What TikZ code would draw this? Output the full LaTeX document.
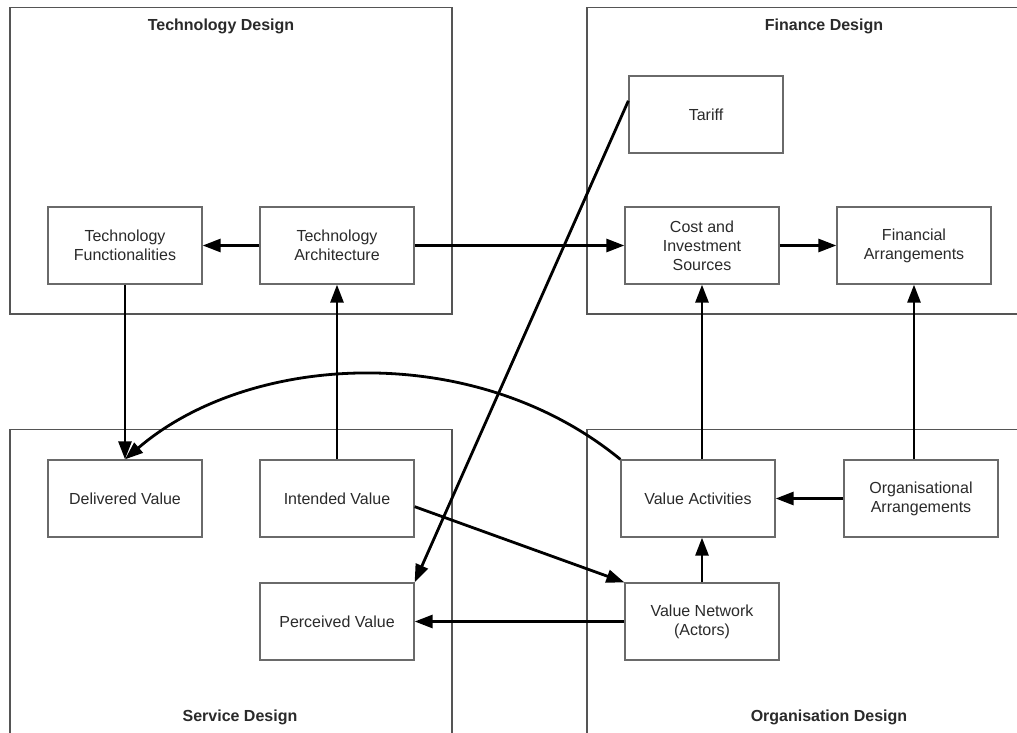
\documentclass[tikz,border=0pt]{standalone}
\usepackage{fontspec}
\setmainfont{Liberation Sans}
\usetikzlibrary{arrows.meta,calc}

\definecolor{framegray}{HTML}{555555}
\definecolor{boxgray}{HTML}{6A6A6A}
\definecolor{textgray}{HTML}{2A2A2A}

\tikzset{
  frame/.style={draw=framegray, line width=1.2pt},
  block/.style={draw=boxgray, line width=1.3pt, fill=white,
    minimum width=154pt, minimum height=77pt, inner sep=0pt,
    align=center, text=textgray,
    font=\fontsize{16}{19}\selectfont},
  title/.style={font=\fontsize{16}{19}\selectfont\bfseries, text=textgray},
  arr/.style={line width=2.8pt, black,
    -{Triangle[length=18pt,width=13pt]}},
}

\begin{document}
\begin{tikzpicture}[x=1pt,y=-1pt]
  \fill[white] (0,0) rectangle (1017,733);
  \clip (0,0) rectangle (1017,733);

  % four design areas
  \draw[frame] (10,7.5) rectangle (452,314);
  \draw[frame] (587,7.5) rectangle (1030,314);
  \draw[frame] (10,429.5) rectangle (452,760);
  \draw[frame] (587,429.5) rectangle (1030,760);

  \node[title] (ttech) at (221,26) {Technology Design};
  \node[title] (tfin)  at (824,26) {Finance Design};
  \node[title] (tserv) at (240,717) {Service Design};
  \node[title] (torg)  at (829,717) {Organisation Design};

  % building blocks
  \node[block] (tf)     at (125,245.5) {Technology\\Functionalities};
  \node[block] (ta)     at (337,245.5) {Technology\\Architecture};
  \node[block] (tariff) at (706,114.5) {Tariff};
  \node[block] (cost)   at (702,245.5) {Cost and\\Investment\\Sources};
  \node[block] (fin)    at (914,245.5) {Financial\\Arrangements};
  \node[block] (dv)     at (125,498.5) {Delivered Value};
  \node[block] (iv)     at (337,498.5) {Intended Value};
  \node[block] (pv)     at (337,621.5) {Perceived Value};
  \node[block] (va)     at (698,498.5) {Value Activities};
  \node[block] (oa)     at (921,498.5) {Organisational\\Arrangements};
  \node[block] (vn)     at (702,621.5) {Value Network\\(Actors)};

  % relations
  \draw[arr] (ta.west) -- (tf.east);
  \draw[arr] (ta.east) -- (cost.west);
  \draw[arr] (cost.east) -- (fin.west);
  \draw[arr] (tf.south) -- (dv.north);
  \draw[arr] (iv.north) -- (ta.south);
  \draw[arr] (va.north -| cost.south) -- (cost.south);
  \draw[arr] (oa.north -| fin.south) -- (fin.south);
  \draw[arr] (oa.west) -- (va.east);
  \draw[arr] (vn.north) -- (vn.north |- va.south);
  \draw[arr] (vn.west) -- (pv.east);
  \draw[arr] (iv.-6.3) -- (vn.north west);
  \draw[arr] (tariff.170.8) -- (pv.north east);
  \draw[arr] (va.north west) .. controls (475,340) and (250,352) .. (dv.north);
\end{tikzpicture}
\end{document}
